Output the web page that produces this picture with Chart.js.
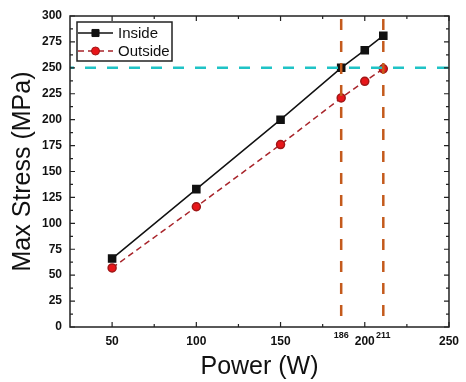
<!DOCTYPE html>
<html>
<head>
<meta charset="utf-8">
<script src="https://cdn.jsdelivr.net/npm/chart.js@4.4.1/dist/chart.umd.min.js"></script>
<style>
  html, body { margin: 0; padding: 0; background: #fff; }
  #wrap { width: 466px; height: 382px; position: relative; }
</style>
</head>
<body>
<div id="wrap"><canvas id="stress"></canvas></div>
<script>
// data
const powers = [50, 100, 150, 186, 200, 211];
const insideStress = [66, 133, 200, 250, 267, 281];
const outsideStress = [57, 116, 176, 221, 237, 249];

const xMin = 25, xMax = 250;
const yMin = 0, yMax = 300;
const xLabelTicks = [50, 100, 150, 186, 200, 211, 250];
const xSmallTicks = [186, 211];
const xMajorMarks = [50, 100, 150, 200, 250];
const xMinorMarks = [75, 125, 175, 225];

const limitStress = 250;
const limitPowers = [186, 211];

const FONT = "'Liberation Sans', Arial, sans-serif";

const toPoints = (xs, ys) => xs.map((x, i) => ({ x, y: ys[i] }));

// frame, inward ticks, small tick labels and the boxed legend
const framePlugin = {
    id: 'frame',
    afterDraw(chart) {
        const { ctx, chartArea: a, scales } = chart;
        const sx = scales.x, sy = scales.y;
        ctx.save();
        ctx.strokeStyle = '#222';
        ctx.lineWidth = 1.5;
        ctx.strokeRect(a.left, a.top, a.right - a.left, a.bottom - a.top);

        ctx.lineWidth = 1.2;
        ctx.beginPath();
        const xMark = (v, len) => {
            const px = sx.getPixelForValue(v);
            ctx.moveTo(px, a.bottom); ctx.lineTo(px, a.bottom - len);
            ctx.moveTo(px, a.top); ctx.lineTo(px, a.top + len);
        };
        xMajorMarks.forEach(v => xMark(v, 5));
        xMinorMarks.forEach(v => xMark(v, 3));
        const yMark = (v, len) => {
            const py = sy.getPixelForValue(v);
            ctx.moveTo(a.left, py); ctx.lineTo(a.left + len, py);
            ctx.moveTo(a.right, py); ctx.lineTo(a.right - len, py);
        };
        sy.ticks.forEach(t => {
            yMark(t.value, 5);
            if (t.value < yMax) yMark(t.value + 12.5, 3);
        });
        ctx.stroke();

        // raised small labels for the crossing powers
        ctx.fillStyle = '#111';
        ctx.font = 'bold 9px ' + FONT;
        ctx.textAlign = 'center';
        ctx.textBaseline = 'top';
        xSmallTicks.forEach(v => ctx.fillText(String(v), sx.getPixelForValue(v), a.bottom + 4));

        // legend box
        const lx = a.left + 7, ly = a.top + 6, lw = 95, lh = 39;
        ctx.fillStyle = '#fff';
        ctx.fillRect(lx, ly, lw, lh);
        ctx.strokeStyle = '#222';
        ctx.lineWidth = 1.5;
        ctx.strokeRect(lx, ly, lw, lh);
        const rows = chart.data.datasets.filter(d => d.showInLegend);
        rows.forEach((d, i) => {
            const cy = ly + 11 + i * 18;
            ctx.strokeStyle = d.borderColor;
            ctx.lineWidth = d.borderWidth;
            ctx.setLineDash(d.borderDash || []);
            ctx.beginPath();
            ctx.moveTo(lx + 1, cy); ctx.lineTo(lx + 36, cy);
            ctx.stroke();
            ctx.setLineDash([]);
            ctx.fillStyle = d.pointBackgroundColor;
            ctx.strokeStyle = d.pointBorderColor;
            ctx.lineWidth = 1;
            Chart.helpers.drawPoint(ctx, { pointStyle: d.pointStyle, radius: d.pointRadius, borderWidth: 1 }, lx + 18.5, cy);
            ctx.fillStyle = '#111';
            ctx.font = '15px ' + FONT;
            ctx.textAlign = 'left';
            ctx.textBaseline = 'middle';
            ctx.fillText(d.label, lx + 41, cy + 1);
        });
        ctx.restore();
    }
};

new Chart(document.getElementById('stress'), {
    type: 'line',
    data: {
        datasets: [
            {
                label: 'limit',
                data: [{ x: xMin, y: limitStress }, { x: xMax, y: limitStress }],
                borderColor: '#1fc3c6',
                borderWidth: 2.5,
                borderDash: [11, 11],
                borderDashOffset: 7,
                pointRadius: 0,
                order: 0
            },
            ...limitPowers.map(p => ({
                label: 'P' + p,
                data: [{ x: p, y: yMin }, { x: p, y: yMax }],
                borderColor: '#c45a1c',
                borderWidth: 2.5,
                borderDash: [11, 11],
                borderDashOffset: 11,
                pointRadius: 0,
                order: 0
            })),
            {
                label: 'Inside',
                showInLegend: true,
                data: toPoints(powers, insideStress),
                borderColor: '#111',
                borderWidth: 1.5,
                pointStyle: 'rect',
                pointRadius: 5,
                pointBackgroundColor: '#111',
                pointBorderColor: '#111',
                order: 1
            },
            {
                label: 'Outside',
                showInLegend: true,
                data: toPoints(powers, outsideStress),
                borderColor: '#a8242a',
                borderWidth: 1.5,
                borderDash: [6, 4],
                pointStyle: 'circle',
                pointRadius: 4,
                pointBackgroundColor: '#e8161a',
                pointBorderColor: '#a01818',
                order: 2
            }
        ]
    },
    options: {
        responsive: true,
        maintainAspectRatio: false,
        animation: false,
        layout: { padding: { left: 0, top: 16, right: 14, bottom: 0 } },
        plugins: {
            legend: { display: false },
            tooltip: { enabled: false }
        },
        scales: {
            x: {
                type: 'linear',
                min: xMin,
                max: xMax,
                afterBuildTicks: s => { s.ticks = xLabelTicks.map(v => ({ value: v })); },
                afterFit: s => { s.height = 55; },
                grid: { display: false, drawTicks: false },
                border: { display: false },
                ticks: {
                    padding: 7,
                    color: '#111',
                    font: { family: FONT, size: 12, weight: 'bold' },
                    callback: v => xSmallTicks.includes(v) ? '' : String(v)
                },
                title: {
                    display: true,
                    text: 'Power (W)',
                    color: '#111',
                    font: { family: FONT, size: 25 },
                    padding: 0
                }
            },
            y: {
                min: yMin,
                max: yMax,
                afterFit: s => { s.width = 70; },
                grid: { display: false, drawTicks: false },
                border: { display: false },
                ticks: {
                    stepSize: 25,
                    padding: 8,
                    color: '#111',
                    font: { family: FONT, size: 12, weight: 'bold' }
                },
                title: {
                    display: true,
                    text: 'Max Stress (MPa)',
                    color: '#111',
                    font: { family: FONT, size: 25 },
                    padding: { top: 8, bottom: 0 }
                }
            }
        }
    },
    plugins: [framePlugin]
});
</script>
</body>
</html>
